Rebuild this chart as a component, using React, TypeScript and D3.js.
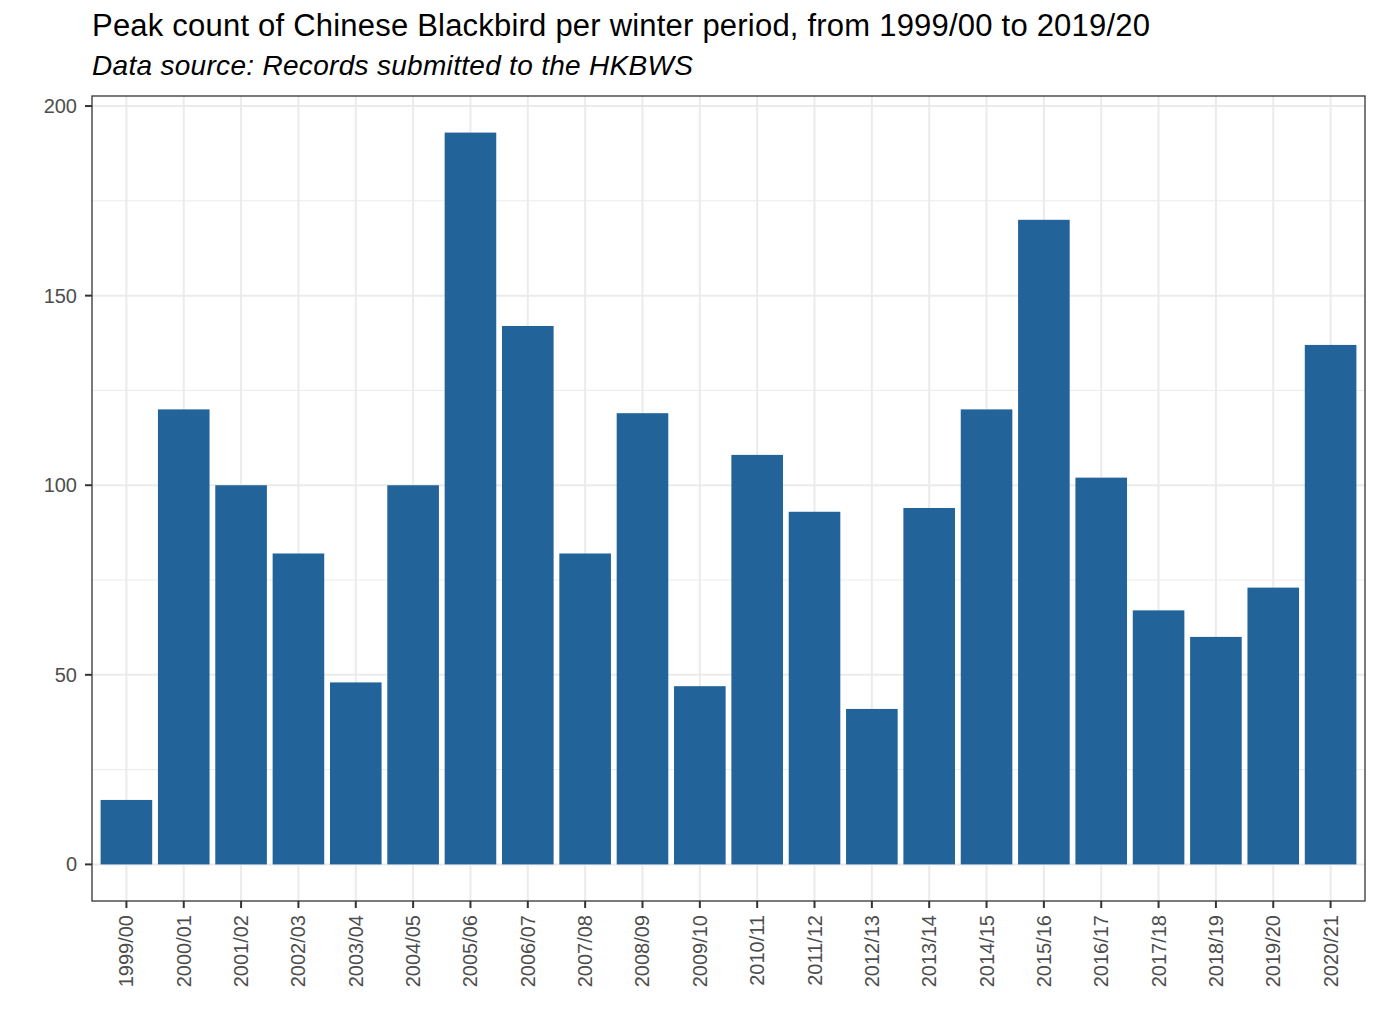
import * as React from "react";
import * as d3 from "d3";

const seasons = [
  "1999/00", "2000/01", "2001/02", "2002/03", "2003/04", "2004/05",
  "2005/06", "2006/07", "2007/08", "2008/09", "2009/10", "2010/11",
  "2011/12", "2012/13", "2013/14", "2014/15", "2015/16", "2016/17",
  "2017/18", "2018/19", "2019/20", "2020/21",
];
const peakCounts = [
  17, 120, 100, 82, 48, 100, 193, 142, 82, 119, 47, 108,
  93, 41, 94, 120, 170, 102, 67, 60, 73, 137,
];
const yTicks = [0, 50, 100, 150, 200];
const yMinor = [25, 75, 125, 175];

const title = "Peak count of Chinese Blackbird per winter period, from 1999/00 to 2019/20";
const subtitle = "Data source: Records submitted to the HKBWS";

const W = 1379,
  H = 1034;
const panel = { left: 92, right: 1365, top: 96, bottom: 901 };
const font = "Liberation Sans, Arial, sans-serif";

export default function App() {
  // discrete axis with ggplot style 0.6 expansion
  const n = seasons.length;
  const step = (panel.right - panel.left) / (n - 1 + 1.2);
  const x = d3
    .scalePoint<string>()
    .domain(seasons)
    .range([panel.left + 0.6 * step, panel.right - 0.6 * step]);
  const barW = step * 0.9;

  const maxV = d3.max(peakCounts) as number;
  const pad = maxV * 0.05;
  const y = d3
    .scaleLinear()
    .domain([-pad, maxV + pad])
    .range([panel.bottom, panel.top]);

  return (
    <svg
      width={W}
      height={H}
      style={{ position: "absolute", left: 0, top: 0, background: "#fff" }}
      fontFamily={font}
    >
      <text x={92} y={36} fontSize={31} fill="#000" textLength={1058} lengthAdjust="spacing">
        {title}
      </text>
      <text x={92} y={75} fontSize={28} fontStyle="italic" fill="#000" textLength={601} lengthAdjust="spacing">
        {subtitle}
      </text>

      {/* grid */}
      {yMinor.map(t => (
        <line key={"mn" + t} x1={panel.left} x2={panel.right} y1={y(t)} y2={y(t)} stroke="#ebebeb" strokeWidth={1} />
      ))}
      {yTicks.map(t => (
        <line key={"mj" + t} x1={panel.left} x2={panel.right} y1={y(t)} y2={y(t)} stroke="#ebebeb" strokeWidth={2} />
      ))}
      {seasons.map(s => (
        <line key={"v" + s} x1={x(s)} x2={x(s)} y1={panel.top} y2={panel.bottom} stroke="#ebebeb" strokeWidth={2} />
      ))}

      {/* bars */}
      {seasons.map((s, i) => (
        <rect
          key={"b" + s}
          x={(x(s) as number) - barW / 2}
          y={y(peakCounts[i])}
          width={barW}
          height={y(0) - y(peakCounts[i])}
          fill="#22649a"
        />
      ))}

      <rect
        x={panel.left}
        y={panel.top}
        width={panel.right - panel.left}
        height={panel.bottom - panel.top}
        fill="none"
        stroke="#333333"
        strokeWidth={1.3}
      />

      {/* y axis */}
      {yTicks.map(t => (
        <g key={"yt" + t}>
          <line x1={panel.left - 7} x2={panel.left} y1={y(t)} y2={y(t)} stroke="#333333" strokeWidth={2} />
          <text x={panel.left - 15} y={y(t)} dy="0.35em" textAnchor="end" fontSize={20} fill="#4d4d4d">
            {t}
          </text>
        </g>
      ))}

      {/* x axis */}
      {seasons.map(s => (
        <g key={"xt" + s}>
          <line x1={x(s)} x2={x(s)} y1={panel.bottom} y2={panel.bottom + 7} stroke="#333333" strokeWidth={2} />
          <text
            transform={`translate(${x(s)},${panel.bottom + 14}) rotate(-90)`}
            dy="0.35em"
            textAnchor="end"
            fontSize={20}
            fill="#4d4d4d"
          >
            {s}
          </text>
        </g>
      ))}
    </svg>
  );
}
